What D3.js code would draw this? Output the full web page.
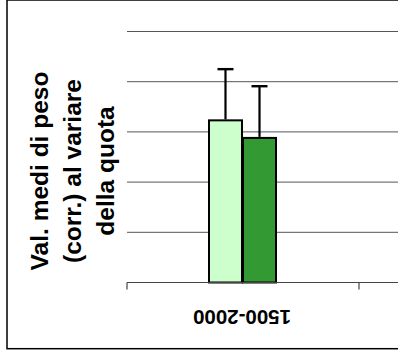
<!DOCTYPE html>
<html>
<head>
<meta charset="utf-8">
<script src="https://cdn.jsdelivr.net/npm/d3@7"></script>
<style>
  html, body { margin: 0; padding: 0; background: #fff; }
  svg { display: block; }
  text { font-family: "Liberation Sans", Arial, sans-serif; font-weight: bold; fill: #000; }
</style>
</head>
<body>
<svg id="chart" width="398" height="350"></svg>
<script>
// ---- data ----
const categories = ["1500-2000"];
const seriesNames = ["Serie 1", "Serie 2"];
const seriesColors = ["#ccffcc", "#339933"];
const meanValues = [3.23, 2.88];
const errorValues = [1.02, 1.03];
const yTicks = [0, 1, 2, 3, 4, 5];
const yTitleLines = ["Val. medi di peso", "(corr.) al variare", "della quota"];

// ---- layout ----
const svg = d3.select("#chart");
const plotLeft = 127, plotRight = 398, catRight = 359;
const yBottom = 282.5, yTop = 31.5;

// outer frame
svg.append("rect")
  .attr("x", 7).attr("y", 0)
  .attr("width", 420).attr("height", 348.7)
  .attr("fill", "none").attr("stroke", "#000").attr("stroke-width", 1.5);

const y = d3.scaleLinear().domain([0, 5]).range([yBottom, yTop]);
const x = d3.scaleBand().domain(categories).range([plotLeft, catRight]).padding(0);
const bw = x.bandwidth();
const x1 = d3.scaleBand().domain(seriesNames)
  .range([bw / 2 - 34, bw / 2 + 33]).paddingInner(0.03).paddingOuter(0);

// gridlines
svg.append("g").selectAll("line")
  .data(yTicks.filter(d => d > 0))
  .join("line")
  .attr("x1", plotLeft).attr("x2", plotRight)
  .attr("y1", d => y(d)).attr("y2", d => y(d))
  .attr("stroke", "#555").attr("stroke-width", 1);

// bars
const data = seriesNames.map((s, i) => ({ cat: categories[0], s, v: meanValues[i], e: errorValues[i], c: seriesColors[i] }));
const g = svg.append("g");
g.selectAll("rect.bar").data(data).join("rect")
  .attr("class", "bar")
  .attr("x", d => x(d.cat) + x1(d.s))
  .attr("width", x1.bandwidth())
  .attr("y", d => y(d.v))
  .attr("height", d => y(0) - y(d.v))
  .attr("fill", d => d.c)
  .attr("stroke", "#000").attr("stroke-width", 2);

// error bars
const eb = g.selectAll("g.err").data(data).join("g").attr("class", "err");
eb.append("line")
  .attr("x1", d => x(d.cat) + x1(d.s) + x1.bandwidth() / 2)
  .attr("x2", d => x(d.cat) + x1(d.s) + x1.bandwidth() / 2)
  .attr("y1", d => y(d.v) - 1)
  .attr("y2", d => y(d.v + d.e))
  .attr("stroke", "#000").attr("stroke-width", 2.2);
eb.append("line")
  .attr("x1", d => x(d.cat) + x1(d.s) + x1.bandwidth() / 2 - 8)
  .attr("x2", d => x(d.cat) + x1(d.s) + x1.bandwidth() / 2 + 8)
  .attr("y1", d => y(d.v + d.e))
  .attr("y2", d => y(d.v + d.e))
  .attr("stroke", "#000").attr("stroke-width", 2.4);

// x axis line
svg.append("line")
  .attr("x1", plotLeft).attr("x2", plotRight)
  .attr("y1", y(0)).attr("y2", y(0))
  .attr("stroke", "#444").attr("stroke-width", 1.2);
// category boundary ticks
const tickXs = [x(categories[0]), x(categories[0]) + bw];
svg.append("g").selectAll("line").data(tickXs).join("line")
  .attr("x1", d => d).attr("x2", d => d)
  .attr("y1", y(0)).attr("y2", y(0) + 7)
  .attr("stroke", "#444").attr("stroke-width", 1.2);

// category label (upside down)
svg.append("g").selectAll("text").data(categories).join("text")
  .attr("transform", d => `translate(${x(d) + bw / 2 - 1},317) rotate(180)`)
  .attr("text-anchor", "middle")
  .attr("dy", "0.358em")
  .style("font-size", "20.5px")
  .text(d => d);

// y title
const yt = svg.append("text")
  .attr("transform", "translate(48,171) rotate(-90)")
  .attr("text-anchor", "middle")
  .style("font-size", "24.5px");
yTitleLines.forEach((t, i) => {
  yt.append("tspan").attr("x", 0).attr("y", i * 33).text(t);
});
</script>
</body>
</html>
